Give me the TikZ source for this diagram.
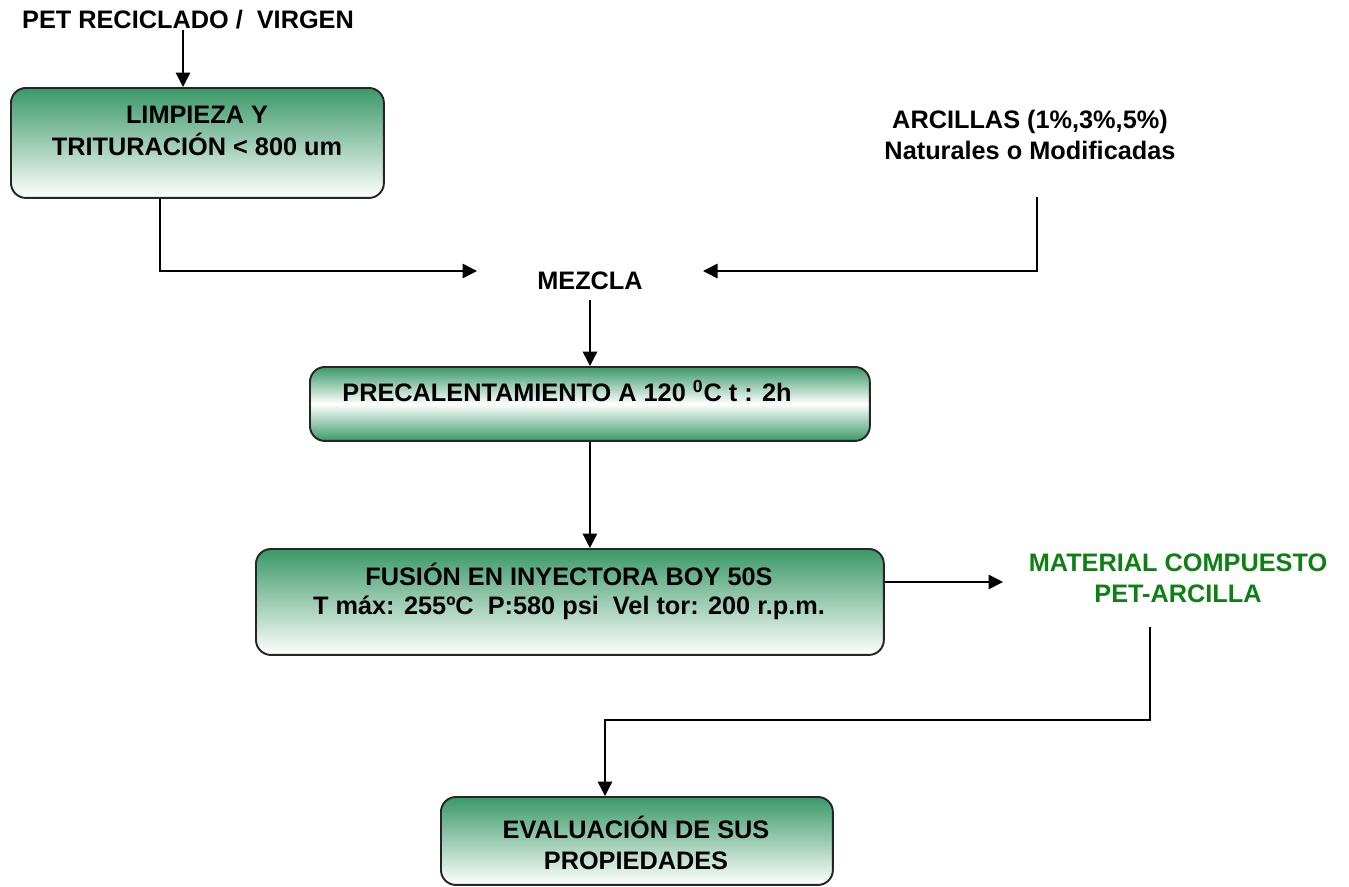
\documentclass[tikz,border=0pt]{standalone}
\usepackage{fontspec}
\setmainfont{Liberation Sans}
\usetikzlibrary{arrows.meta}
\definecolor{boxGreen}{HTML}{3A9868}
\definecolor{outGreen}{HTML}{0E7F12}

\begin{document}
\begin{tikzpicture}[
  x=0.02cm,y=-0.02cm,
  box/.style={draw=black!85,line width=1.1pt,rounded corners=0.3cm,
              top color=boxGreen,bottom color=white,anchor=north west,inner sep=0pt},
  heated/.style={box,top color=boxGreen,bottom color=boxGreen,middle color=white},
  txt/.style={font=\fontsize{14.4}{17.5}\selectfont\bfseries,align=center,inner sep=0pt},
  edge/.style={-{Triangle[length=2.9mm,width=2.9mm]},line width=0.85pt}
]
  \useasboundingbox (0,0) rectangle (1349,886);

  % boxes
  \node[box,minimum width=7.46cm,minimum height=2.2cm] (limp) at (10,87) {};
  \node[heated,minimum width=11.2cm,minimum height=1.48cm] (precal) at (309,366) {};
  \node[box,minimum width=12.56cm,minimum height=2.12cm] (fusion) at (255,548) {};
  \node[box,minimum width=7.84cm,minimum height=1.76cm] (eval) at (440,796) {};

  % texts
  \node[txt] (pet) at (188,20) {PET RECICLADO /\ \ VIRGEN};
  \node[txt,font=\fontsize{14.4}{18.5}\selectfont\bfseries] (limpTxt) at (197,131) {LIMPIEZA Y\\TRITURACIÓN < 800 um};
  \node[txt] (arc) at (1030,135) {ARCILLAS (1\%,3\%,5\%)\\Naturales o Modificadas};
  \node[txt] (mix) at (590,281) {MEZCLA};
  \node[txt] (precalTxt) at (567,391) {PRECALENTAMIENTO A 120 $^{\mathbf{0}}$C t : 2h};
  \node[txt,font=\fontsize{14.4}{16.5}\selectfont\bfseries] (fusionTxt) at (569,591) {FUSIÓN EN INYECTORA BOY 50S\\T máx: 255ºC\ \ P:580 psi\ \ Vel tor: 200 r.p.m.};
  \node[txt,text=outGreen] (mat) at (1178,578) {MATERIAL COMPUESTO\\PET-ARCILLA};
  \node[txt] (evalTxt) at (636,843) {EVALUACIÓN DE SUS\\PROPIEDADES};

  % free ends
  \coordinate (mixL) at (477,271);
  \coordinate (mixR) at (703,271);
  \coordinate (arcOut) at (1037,197);
  \coordinate (matIn) at (1003,582);
  \coordinate (matOut) at (1150,627);
  \coordinate (evalIn) at (605,796);

  \draw[edge] ([xshift=-0.1cm]pet.south) -- ([xshift=-0.1cm]pet.south |- limp.north);
  \draw[edge] ([xshift=3cm]limp.south west) |- (mixL);
  \draw[edge] (arcOut) |- (mixR);
  \draw[edge] ([yshift=-0.2cm]mix.south) -- (mix.south |- precal.north);
  \draw[edge] (precal.south) -- (precal.south |- fusion.north);
  \draw[edge] (matIn -| fusion.east) -- (matIn);
  \draw[edge] (matOut) -- ++(0,93) -| (evalIn);
\end{tikzpicture}
\end{document}
